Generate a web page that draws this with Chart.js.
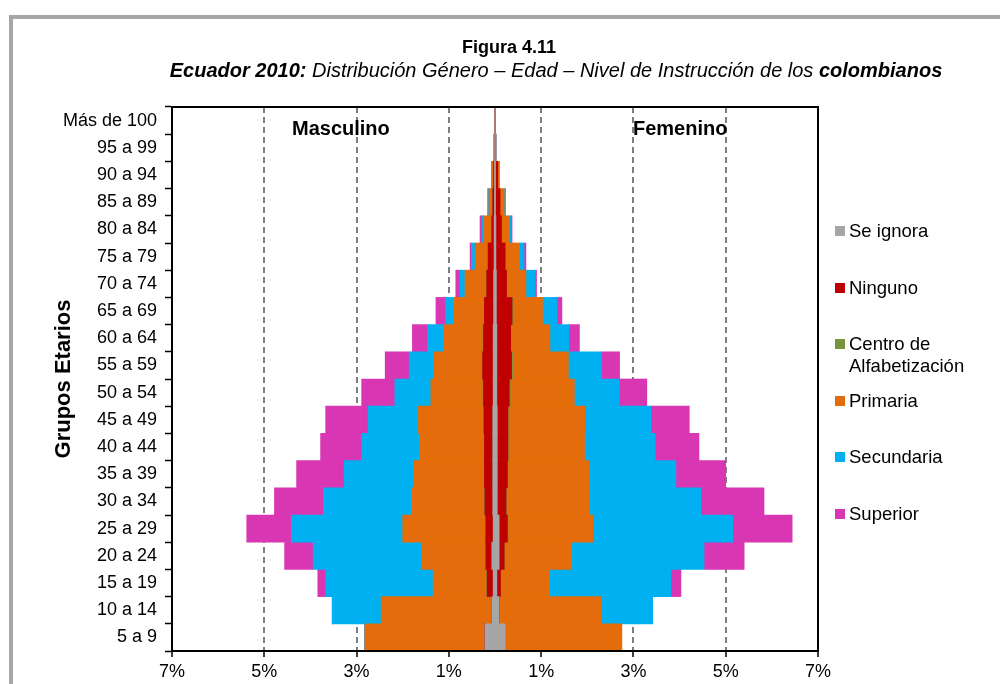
<!DOCTYPE html>
<html>
<head>
<meta charset="utf-8">
<script src="https://cdn.jsdelivr.net/npm/chart.js@4.4.1/dist/chart.umd.min.js"></script>
<style>
  html, body { margin: 0; padding: 0; background: #fff; }
  #wrap { position: relative; width: 1000px; height: 684px; overflow: hidden; background: #fff; font-family: 'Liberation Sans', Arial, sans-serif; color: #000; }
  #frame { position: absolute; left: 9px; top: 15px; width: 1100px; height: 800px; border-top: 4px solid #a6a6a6; border-left: 4px solid #a6a6a6; box-sizing: border-box; }
  canvas { position: absolute; left: 0; top: 0; }
  .t1 { position: absolute; top: 36px; left: 0; width: 1018px; text-align: center; font-weight: bold; font-size: 18px; line-height: 22px; }
  .t2 { position: absolute; top: 58px; left: 0; width: 1112px; text-align: center; font-style: italic; font-size: 20px; line-height: 24px; white-space: nowrap; }
  .side { position: absolute; top: 116px; font-weight: bold; font-size: 20px; line-height: 24px; }
  .leg { position: absolute; left: 835px; font-size: 18.5px; line-height: 22px; white-space: nowrap; }
  .leg span.sw { position: absolute; left: 0; top: 6px; width: 10px; height: 10px; }
  .leg span.tx { display: block; margin-left: 14px; }
</style>
</head>
<body>
<div id="wrap">
  <div id="frame"></div>
  <canvas id="c" width="1000" height="684"></canvas>
  <div class="t1">Figura 4.11</div>
  <div class="t2"><b>Ecuador 2010:</b> Distribución Género – Edad – Nivel de Instrucción de los <b>colombianos</b></div>
  <div class="side" style="left:292px">Masculino</div>
  <div class="side" style="left:633px">Femenino</div>
  <div id="legend"></div>
</div>
<script>
// Categories, top to bottom
const categories = ["Más de 100","95 a 99","90 a 94","85 a 89","80 a 84","75 a 79","70 a 74","65 a 69","60 a 64","55 a 59","50 a 54","45 a 49","40 a 44","35 a 39","30 a 34","25 a 29","20 a 24","15 a 19","10 a 14","5 a 9"];
const seriesNames = ["Se ignora","Ninguno","Centro de Alfabetización","Primaria","Secundaria","Superior"];
const legendLines = [["Se ignora"],["Ninguno"],["Centro de","Alfabetización"],["Primaria"],["Secundaria"],["Superior"]];
const seriesColors = ["#a6a6a6","#c00000","#77933c","#e46c0a","#00b0f0","#d936b4"];
const xTickValues = [-7,-5,-3,-1,1,3,5,7];

// Masculino (negative, % of population)
const seIgnoraM   = [-0.003,-0.005,-0.01,-0.01,-0.02,-0.02,-0.03,-0.03,-0.04,-0.04,-0.04,-0.05,-0.05,-0.05,-0.05,-0.04,-0.07,-0.04,-0.07,-0.22];
const ningunoM    = [-0.003,-0.005,-0.02,-0.04,-0.05,-0.13,-0.15,-0.20,-0.21,-0.23,-0.21,-0.19,-0.18,-0.18,-0.17,-0.16,-0.13,-0.13,-0.005,0];
const centroM     = [0,0,0,0,-0.005,-0.01,-0.01,-0.01,-0.01,-0.01,-0.01,-0.01,-0.01,-0.01,-0.01,-0.01,-0.01,-0.01,-0.002,0];
const primariaM   = [-0.003,-0.01,-0.04,-0.08,-0.18,-0.27,-0.46,-0.66,-0.86,-1.04,-1.13,-1.41,-1.40,-1.53,-1.58,-1.79,-1.37,-1.16,-2.39,-2.60];
const secundariaM = [-0.002,-0.002,0,-0.01,-0.03,-0.08,-0.11,-0.17,-0.34,-0.54,-0.78,-1.09,-1.25,-1.50,-1.91,-2.41,-2.36,-2.33,-1.06,0];
const superiorM   = [-0.001,-0.002,0,-0.02,-0.04,-0.03,-0.09,-0.21,-0.33,-0.52,-0.72,-0.92,-0.89,-1.03,-1.06,-0.97,-0.62,-0.17,0,0];

// Femenino (positive, % of population)
const seIgnoraF   = [0.003,0.005,0.01,0.01,0.02,0.02,0.03,0.03,0.04,0.04,0.04,0.05,0.05,0.05,0.05,0.09,0.09,0.04,0.09,0.22];
const ningunoF    = [0.003,0.005,0.05,0.10,0.12,0.20,0.22,0.34,0.30,0.32,0.27,0.23,0.23,0.22,0.19,0.18,0.11,0.08,0.005,0];
const centroF     = [0,0,0,0,0.005,0.01,0.01,0.02,0.02,0.02,0.02,0.01,0.01,0.01,0.01,0.01,0.01,0.01,0.002,0];
const primariaF   = [0.003,0.01,0.03,0.09,0.155,0.30,0.41,0.64,0.83,1.21,1.39,1.66,1.65,1.76,1.79,1.84,1.45,1.05,2.20,2.53];
const secundariaF = [0.002,0.003,0.005,0.02,0.05,0.10,0.20,0.31,0.41,0.72,0.97,1.43,1.53,1.88,2.42,3.03,2.87,2.63,1.12,0];
const superiorF   = [0.001,0.001,0,0.005,0.02,0.04,0.03,0.11,0.23,0.39,0.60,0.83,0.95,1.08,1.37,1.29,0.87,0.22,0,0];

const maleSeries = [seIgnoraM, ningunoM, centroM, primariaM, secundariaM, superiorM];
const femaleSeries = [seIgnoraF, ningunoF, centroF, primariaF, secundariaF, superiorF];

const datasets = [];
seriesNames.forEach((name, i) => {
  datasets.push({ label: name, data: maleSeries[i], backgroundColor: seriesColors[i], borderWidth: 0, stack: 'p', barPercentage: 1, categoryPercentage: 1 });
  datasets.push({ label: name + ' (F)', data: femaleSeries[i], backgroundColor: seriesColors[i], borderWidth: 0, stack: 'p', barPercentage: 1, categoryPercentage: 1 });
});

// legend (HTML)
const legEl = document.getElementById('legend');
legendLines.forEach((lines, i) => {
  const d = document.createElement('div');
  d.className = 'leg';
  d.style.top = (220 + i * 56.6) + 'px';
  d.innerHTML = '<span class="sw" style="background:' + seriesColors[i] + '"></span><span class="tx">' + lines.join('<br>') + '</span>';
  legEl.appendChild(d);
});

const frameBox = {
  id: 'frameBox',
  afterDraw(chart) {
    const a = chart.chartArea, ctx = chart.ctx;
    ctx.save();
    ctx.strokeStyle = '#000';
    ctx.lineWidth = 2;
    ctx.strokeRect(a.left, a.top, a.right - a.left, a.bottom - a.top);
    ctx.restore();
  }
};

const FONT = "'Liberation Sans', Arial, sans-serif";
new Chart(document.getElementById('c'), {
  type: 'bar',
  data: { labels: categories, datasets },
  options: {
    indexAxis: 'y',
    responsive: false,
    animation: false,
    devicePixelRatio: 1,
    layout: { padding: { top: 107, right: 182, left: 47, bottom: 0 } },
    plugins: { legend: { display: false }, tooltip: { enabled: false }, title: { display: false } },
    scales: {
      x: {
        stacked: true,
        min: -7, max: 7,
        afterBuildTicks: (s) => { s.ticks = xTickValues.map(v => ({ value: v })); },
        afterFit: (s) => { s.height = 33; },
        ticks: { color: '#000', font: { family: FONT, size: 18 }, padding: 4, maxRotation: 0, autoSkip: false,
                 callback: (v) => Math.abs(v) + '%' },
        grid: {
          color: (c) => (c.tick && Math.abs(c.tick.value) === 7) ? 'rgba(0,0,0,0)' : '#7f7f7f',
          lineWidth: 2, tickColor: '#000', tickLength: 6, tickWidth: 1.5
        },
        border: { display: true, color: '#000', width: 2, dash: [6, 4] }
      },
      y: {
        stacked: true,
        afterFit: (s) => { s.width = 172 - 47; },
        ticks: { color: '#000', font: { family: FONT, size: 18 }, padding: 8, autoSkip: false },
        grid: { drawOnChartArea: false, tickColor: '#000', tickLength: 7, tickWidth: 1.5 },
        border: { display: true, color: '#000', width: 2 },
        title: { display: true, text: 'Grupos Etarios', color: '#000', font: { family: FONT, size: 22, weight: 'bold' }, padding: { top: 4, bottom: 0 } }
      }
    }
  },
  plugins: [frameBox]
});
</script>
</body>
</html>
